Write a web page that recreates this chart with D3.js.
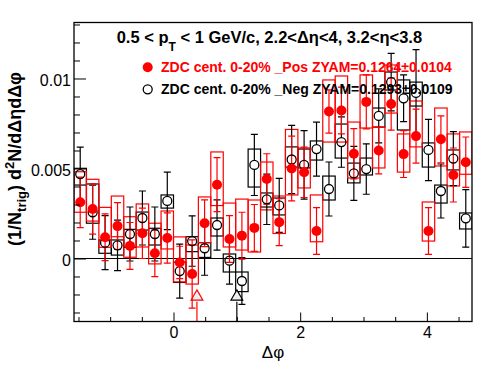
<!DOCTYPE html>
<html><head><meta charset="utf-8">
<script src="https://cdn.jsdelivr.net/npm/d3@7"></script>
<style>
html,body{margin:0;padding:0;background:#fff;}
svg{display:block;font-family:"Liberation Sans",Arial,Helvetica,sans-serif;}
</style></head>
<body>
<svg id="c" width="496" height="374"></svg>
<script>
// ---------------- data ----------------
const dphi = [-1.4726,-1.2763,-1.0799,-0.8836,-0.6872,-0.4909,-0.2945,-0.0982,
  0.0982,0.2945,0.4909,0.6872,0.8836,1.0799,1.2763,1.4726,
  1.6690,1.8653,2.0617,2.2580,2.4544,2.6507,2.8471,3.0434,
  3.2398,3.4361,3.6325,3.8288,4.0252,4.2215,4.4179,4.6142];
const binWidth = 0.19635;

// ZDC cent. 0-20% _Pos (red, filled)
const posY = [0.00312,0.00275,0.00118,0.0018,0.0007,0.0014,0.00029,0.00114,
  -0.00022,-0.00086,0.00196,0.0041,0.00108,0.00127,0.0017,0.00442,
  0.00202,0.005,0.00479,0.00153,0.00817,0.00822,0.00582,0.0087,
  0.006,0.00858,0.0058,0.0068,0.00153,0.00662,0.00464,0.00535];
const posStat = [0.0014,0.0014,0.0013,0.0013,0.0013,0.0014,0.0013,0.0014,
  0.0009,0.0019,0.0013,0.0015,0.0013,0.0013,0.0013,0.0014,
  0.0013,0.0018,0.0014,0.0013,0.0012,0.0013,0.0014,0.0015,
  0.0013,0.00145,0.0013,0.0015,0.0013,0.0013,0.0015,0.0014];
const posSysLo = [0.00257,0.00208,0.00062,0.00121,0.00007,0.00064,-0.0003,0.00053,
  -0.0013,-0.00142,0.00088,0.00294,0.00064,0.00047,0.00036,0.0027,
  0.00139,0.00353,0.00392,0.00093,0.00647,0.00647,0.00447,0.00725,
  0.00503,0.00808,0.0048,0.0062,0.00097,0.00514,0.00403,0.00468];
const posSysHi = [0.00482,0.0044,0.00284,0.00347,0.00232,0.00303,0.00196,0.00264,
  0.0012,0.00075,0.00342,0.00592,0.00308,0.0033,0.00325,0.00536,
  0.00347,0.00717,0.00614,0.00353,0.00992,0.01014,0.00758,0.0102,
  0.0073,0.01075,0.00692,0.00875,0.00314,0.00836,0.00692,0.00703];

// ZDC cent. 0-20% _Neg (black, open)
const negY = [0.00469,0.00257,0.00088,0.00073,0.00136,0.00225,0.00136,0.0032,
  -0.0007,0.00097,0.00057,0.00186,-0.00012,-0.00125,0.0052,0.00329,
  0.00295,0.0055,0.0052,0.00608,0.00386,0.00647,0.00473,0.00497,
  0.00792,0.0098,0.0089,0.0092,0.00603,0.00375,0.00555,0.00223];
const negStat = [0.0015,0.0015,0.0015,0.0014,0.0015,0.0015,0.0015,0.0016,
  0.0015,0.0014,0.0015,0.0014,0.0013,0.0013,0.0017,0.0014,
  0.0015,0.0019,0.0019,0.0015,0.0015,0.0014,0.0015,0.0014,
  0.0015,0.0016,0.0013,0.0024,0.0017,0.0015,0.0015,0.0016];
const negSysLo = [0.00408,0.00196,0.00029,0.00019,0.00062,0.00158,0.00075,0.0028,
  -0.00133,0.00038,0.00006,0.00125,-0.00075,-0.00184,0.00397,0.00286,
  0.00242,0.00508,0.00503,0.00547,0.00325,0.00558,0.0042,0.00464,
  0.0073,0.00936,0.00714,0.00847,0.00508,0.00308,0.00492,0.00164];
const negSysHi = [0.00501,0.00414,0.00103,0.00103,0.00162,0.00258,0.00168,0.00353,
  -0.0002,0.00121,0.00088,0.00225,0.00025,-0.00075,0.00608,0.00364,
  0.00336,0.0062,0.00608,0.00653,0.00458,0.00747,0.0053,0.00558,
  0.00836,0.01036,0.00992,0.0098,0.00642,0.00408,0.00603,0.00253];

// out-of-range markers (open triangles)
const triX = [0.37, 1.0];
const triY = [-0.00212, -0.00212];
const triSeries = ["pos", "neg"];

const yMajor = [0, 0.005, 0.01];
const yMajorLabels = ["0", "0.005", "0.01"];
const xMajor = [0, 2, 4];
const xMajorLabels = ["0", "2", "4"];

const titleParts = ["0.5 < p", "T", " < 1 GeV/c, 2.2<\u0394\u03b7<4, 3.2<\u03b7<3.8"];
const legendPos = "ZDC cent. 0-20% _Pos ZYAM=0.1264\u00b10.0104";
const legendNeg = "ZDC cent. 0-20% _Neg ZYAM=0.1293\u00b10.0109";

// ---------------- drawing ----------------
const RED = "#ff0000", BLK = "#000000";
const L = 74, R = 472, T = 22.5, B = 321.5;
const svg = d3.select("#c");
svg.append("rect").attr("width",496).attr("height",374).attr("fill","#fff");

const x = d3.scaleLinear().domain([-Math.PI/2, 3*Math.PI/2]).range([L, R]);
const y = d3.scaleLinear().domain([-0.0035, 0.013111]).range([B, T]);

svg.append("clipPath").attr("id","clip").append("rect")
  .attr("x",L).attr("y",T).attr("width",R-L).attr("height",B-T);
const plot = svg.append("g").attr("clip-path","url(#clip)");

// zero line
plot.append("line").attr("x1",L).attr("x2",R).attr("y1",y(0)).attr("y2",y(0))
  .attr("stroke",BLK).attr("stroke-width",1);

const idx = d3.range(dphi.length);

function boxes(lo, hi, col){
  plot.append("g").selectAll("rect").data(idx).join("rect")
    .attr("x", i => x(dphi[i]-binWidth/2))
    .attr("width", i => x(dphi[i]+binWidth/2) - x(dphi[i]-binWidth/2))
    .attr("y", i => y(hi[i]))
    .attr("height", i => y(lo[i]) - y(hi[i]))
    .attr("fill","none").attr("stroke",col).attr("stroke-width",1.2);
}
boxes(negSysLo, negSysHi, BLK);
boxes(posSysLo, posSysHi, RED);

// triangle markers with lines to the bottom
const triG = plot.append("g");
triX.forEach((tx,k)=>{
  const col = triSeries[k]==="pos" ? RED : BLK;
  triG.append("line").attr("x1",x(tx)).attr("x2",x(tx))
    .attr("y1",y(triY[k])+5).attr("y2",B).attr("stroke",col).attr("stroke-width",1.2);
  triG.append("path").attr("d", d3.symbol(d3.symbolTriangle, 60)())
    .attr("transform",`translate(${x(tx)},${y(triY[k])})`)
    .attr("fill","#eeeeee").attr("stroke",col).attr("stroke-width",1.2);
});

function errbars(vals, errs, col, gap){
  const g = plot.append("g").attr("stroke",col).attr("stroke-width",1.2);
  idx.forEach(i=>{
    const cx = x(dphi[i]), cy = y(vals[i]);
    const yt = y(vals[i]+errs[i]), yb = y(vals[i]-errs[i]);
    if (cy - gap > yt) g.append("line").attr("x1",cx).attr("x2",cx).attr("y1",yt).attr("y2",cy-gap);
    if (cy + gap < yb) g.append("line").attr("x1",cx).attr("x2",cx).attr("y1",cy+gap).attr("y2",yb);
    g.append("line").attr("x1",cx-3.5).attr("x2",cx+3.5).attr("y1",yt).attr("y2",yt);
    g.append("line").attr("x1",cx-3.5).attr("x2",cx+3.5).attr("y1",yb).attr("y2",yb);
  });
}
errbars(negY, negStat, BLK, 4.5);
errbars(posY, posStat, RED, 0);

plot.append("g").selectAll("circle").data(idx).join("circle")
  .attr("cx", i => x(dphi[i])).attr("cy", i => y(negY[i])).attr("r",4.5)
  .attr("fill","none").attr("stroke",BLK).attr("stroke-width",1.3);
plot.append("g").selectAll("circle").data(idx).join("circle")
  .attr("cx", i => x(dphi[i])).attr("cy", i => y(posY[i])).attr("r",5)
  .attr("fill",RED);

// axes
const yAx = svg.append("g").attr("transform",`translate(${L},0)`)
  .call(d3.axisLeft(y).tickValues(yMajor).tickSize(-12).tickPadding(3)
    .tickFormat((d,i)=>yMajorLabels[i]));
yAx.select(".domain").remove();
yAx.selectAll("text").attr("font-size",16).attr("dy","0.45em").attr("fill","#000")
  .attr("font-family",'"Liberation Sans",Arial,sans-serif');
yAx.selectAll("line").attr("stroke","#000");
const yMin = svg.append("g").attr("transform",`translate(${L},0)`)
  .call(d3.axisLeft(y).tickValues(d3.range(-3,14).map(v=>v/1000).filter(v=>!yMajor.some(m=>Math.abs(m-v)<1e-9)))
    .tickSize(-6).tickFormat(""));
yMin.select(".domain").remove();
yMin.selectAll("line").attr("stroke","#000");

const xAx = svg.append("g").attr("transform",`translate(0,${B})`)
  .call(d3.axisBottom(x).tickValues(xMajor).tickSize(-9).tickPadding(5)
    .tickFormat((d,i)=>xMajorLabels[i]));
xAx.select(".domain").remove();
xAx.selectAll("text").attr("font-size",16).attr("fill","#000")
  .attr("font-family",'"Liberation Sans",Arial,sans-serif');
xAx.selectAll("line").attr("stroke","#000");
const xMin = svg.append("g").attr("transform",`translate(0,${B})`)
  .call(d3.axisBottom(x).tickValues([-1.5,-1,-0.5,0.5,1,1.5,2.5,3,3.5,4.5])
    .tickSize(-4.5).tickFormat(""));
xMin.select(".domain").remove();
xMin.selectAll("line").attr("stroke","#000");

// frame
svg.append("rect").attr("x",L).attr("y",T).attr("width",R-L).attr("height",B-T)
  .attr("fill","none").attr("stroke","#000").attr("stroke-width",1.3);

// axis titles
svg.append("text").attr("x",(L+R)/2).attr("y",358).attr("text-anchor","middle")
  .attr("font-size",17).text("\u0394\u03c6");

const yt = svg.append("text").attr("transform","translate(21,159) rotate(-90)")
  .attr("text-anchor","middle").attr("font-size",18).attr("font-weight","bold");
yt.append("tspan").text("(1/N");
yt.append("tspan").attr("font-size",13).attr("dy",5).text("trig");
yt.append("tspan").attr("dy",-5).text(") d");
yt.append("tspan").attr("font-size",13).attr("dy",-7).text("2");
yt.append("tspan").attr("dy",7).text("N/d\u0394\u03b7d\u0394\u03c6");

// title
const tt = svg.append("text").attr("x",116.7).attr("y",43.3)
  .attr("font-size",16.5).attr("font-weight","bold");
tt.append("tspan").text(titleParts[0]);
tt.append("tspan").attr("font-size",12).attr("dy",8).text(titleParts[1]);
tt.append("tspan").attr("dy",-8).text(titleParts[2]);

// legend
svg.append("circle").attr("cx",147.7).attr("cy",67.3).attr("r",5).attr("fill",RED);
svg.append("text").attr("x",161).attr("y",72.3).attr("font-size",14).attr("font-weight","bold")
  .attr("fill",RED).text(legendPos);
svg.append("circle").attr("cx",147.7).attr("cy",89.3).attr("r",4.5).attr("fill","none")
  .attr("stroke",BLK).attr("stroke-width",1.3);
svg.append("text").attr("x",161).attr("y",94.3).attr("font-size",14).attr("font-weight","bold")
  .attr("fill",BLK).text(legendNeg);
</script>
</body></html>
